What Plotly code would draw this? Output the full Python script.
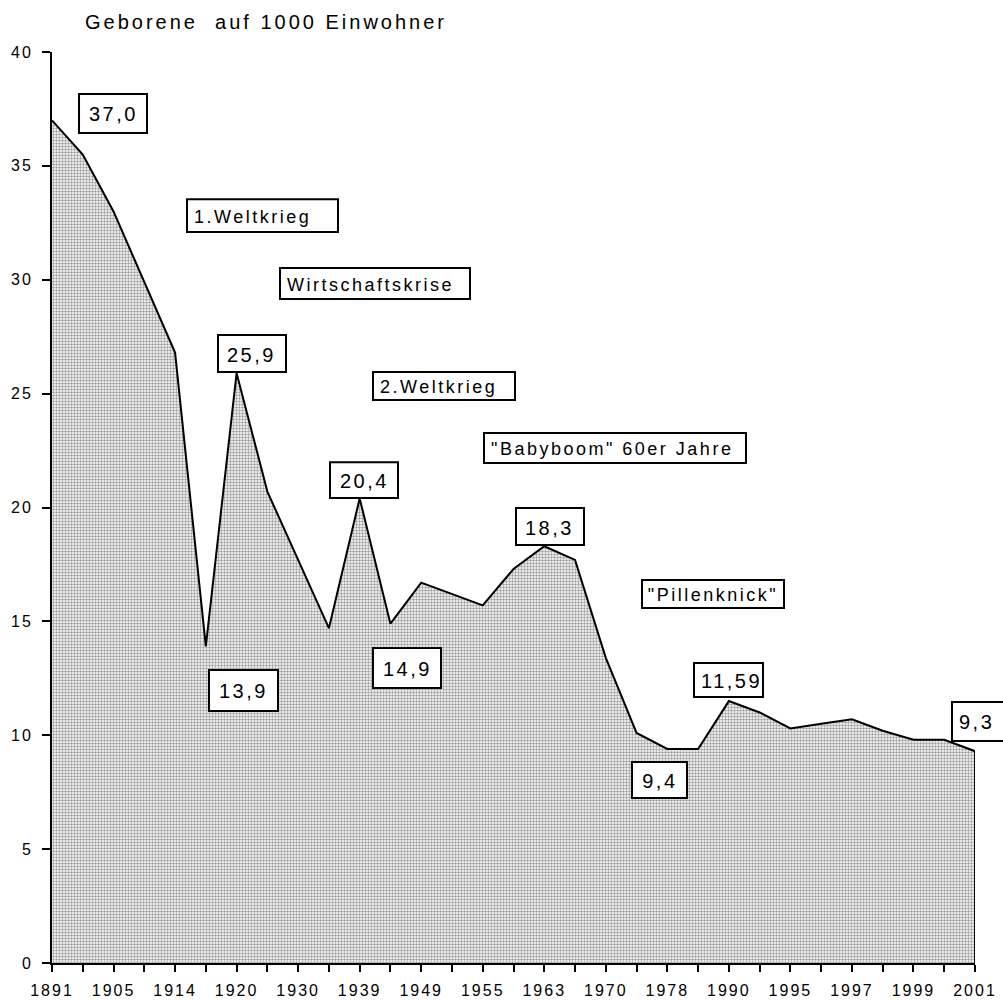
import plotly.graph_objects as go

# ---- data ----
year_labels = ["1891", "1905", "1914", "1920", "1930", "1939", "1949", "1955",
               "1963", "1970", "1978", "1990", "1995", "1997", "1999", "2001"]
birth_rate = [37.0, 35.5, 33.0, 29.9, 26.8, 13.9, 25.9, 20.7, 17.7, 14.7,
              20.4, 14.9, 16.7, 16.2, 15.7, 17.3, 18.3, 17.7, 13.4, 10.1,
              9.4, 9.4, 11.5, 11.0, 10.3, 10.5, 10.7, 10.2, 9.8, 9.8, 9.3]
y_ticks = [0, 5, 10, 15, 20, 25, 30, 35, 40]
title_text = "Geborene  auf 1000 Einwohner"

label_texts = ["37,0", "1.Weltkrieg", "Wirtschaftskrise", "25,9", "2.Weltkrieg",
               "20,4", "\"Babyboom\" 60er Jahre", "18,3", "\"Pillenknick\"",
               "13,9", "14,9", "9,4", "11,59", "9,3"]

# ---- label boxes: x0, x1 in category-index units, y0, y1 in data units ----
label_boxes = [
    dict(x0=0.878, x1=3.088, y0=36.44, y1=38.16, align="center", size=20),
    dict(x0=4.388, x1=9.296, y0=32.10, y1=33.54, align="left", size=18),
    dict(x0=7.411, x1=13.586, y0=29.15, y1=30.52, align="left", size=18),
    dict(x0=5.395, x1=7.606, y0=25.95, y1=27.57, align="center", size=20),
    dict(x0=10.433, x1=15.049, y0=24.72, y1=25.95, align="left", size=18),
    dict(x0=9.036, x1=11.246, y0=20.42, y1=21.99, align="center", size=20),
    dict(x0=14.041, x1=22.557, y0=21.95, y1=23.27, align="left", size=18),
    dict(x0=15.081, x1=17.291, y0=18.35, y1=19.98, align="center", size=20),
    dict(x0=19.177, x1=23.792, y0=15.59, y1=16.82, align="center", size=18),
    dict(x0=5.103, x1=7.346, y0=11.06, y1=12.87, align="center", size=20),
    dict(x0=10.433, x1=12.644, y0=12.07, y1=13.83, align="center", size=20),
    dict(x0=18.852, x1=20.639, y0=7.24, y1=8.83, align="center", size=20),
    dict(x0=20.867, x1=23.109, y0=11.68, y1=13.17, align="left", size=20, clipw=62),
    dict(x0=29.252, x1=31.202, y0=9.75, y1=11.46, align="left", size=20),
]

FONT = "Liberation Sans, Arial, sans-serif"

idx = list(range(len(birth_rate)))
tick_text = [year_labels[i // 2] if i % 2 == 0 else "" for i in idx]
X_MAX = idx[-1]
Y_MAX = y_ticks[-1]

fig = go.Figure()
fig.add_trace(go.Scatter(
    x=idx, y=birth_rate, mode="lines",
    line=dict(color="black", width=2),
    fill="tozeroy",
    fillcolor="#c8c8c8",
    fillpattern=dict(shape=".", fgcolor="#404040", bgcolor="#ffffff",
                     size=3, solidity=0.5),
    hoverinfo="skip", showlegend=False,
))
# right-hand edge of the area
fig.add_trace(go.Scatter(
    x=[idx[-1], idx[-1]], y=[0, birth_rate[-1]], mode="lines",
    line=dict(color="black", width=2), hoverinfo="skip", showlegend=False,
    cliponaxis=False,
))

shapes = []
annotations = []
for txt, B in zip(label_texts, label_boxes):
    px0, px1 = B["x0"] / X_MAX, B["x1"] / X_MAX
    py0, py1 = B["y0"] / Y_MAX, B["y1"] / Y_MAX
    shapes.append(dict(type="rect", xref="paper", yref="paper",
                       x0=px0, x1=px1, y0=py0, y1=py1,
                       line=dict(color="black", width=2), fillcolor="white",
                       layer="above"))
    ann = dict(xref="paper", yref="paper", y=(py0 + py1) / 2, yanchor="middle",
               yshift=-1, text=txt, showarrow=False,
               font=dict(family=FONT, size=B["size"], color="black"))
    if B["align"] == "left":
        ann.update(x=px0, xanchor="left", xshift=5, align="left")
    else:
        ann.update(x=(px0 + px1) / 2, xanchor="center", align="center")
    if "clipw" in B:
        ann.update(width=B["clipw"], align="left")
    annotations.append(ann)

fig.update_layout(
    width=1003, height=1000,
    margin=dict(l=52, r=28, t=52, b=37, autoexpand=False),
    paper_bgcolor="white", plot_bgcolor="white",
    title=dict(text=title_text, x=85 / 1003, xref="container", xanchor="left",
               y=1 - 22 / 1000, yref="container", yanchor="middle",
               font=dict(family=FONT, size=20, color="black")),
    xaxis=dict(range=[0, X_MAX], tickmode="array", tickvals=idx, ticktext=tick_text,
               ticks="outside", ticklen=7, tickwidth=2, tickcolor="black",
               showline=True, linecolor="black", linewidth=2,
               showgrid=False, zeroline=False, ticklabelstandoff=5,
               tickfont=dict(family=FONT, size=16, color="black")),
    yaxis=dict(range=[0, Y_MAX], tickmode="array", tickvals=y_ticks,
               ticks="outside", ticklen=8, tickwidth=2, tickcolor="black",
               showline=True, linecolor="black", linewidth=2,
               showgrid=False, zeroline=False, ticklabelstandoff=6,
               tickfont=dict(family=FONT, size=16, color="black")),
    shapes=shapes,
    annotations=annotations,
    showlegend=False,
)

post = """
document.body.style.margin='0';
var gd=document.getElementsByClassName('plotly-graph-div')[0];
gd.querySelectorAll('.gtitle').forEach(function(t){t.style.letterSpacing='3px';});
gd.querySelectorAll('.annotation-text').forEach(function(t){t.style.letterSpacing='2.5px';});
gd.querySelectorAll('.xtick text, .ytick text').forEach(function(t){t.style.letterSpacing='2px';});
"""

fig.write_html("out.html", post_script=post, config={"displayModeBar": False})
